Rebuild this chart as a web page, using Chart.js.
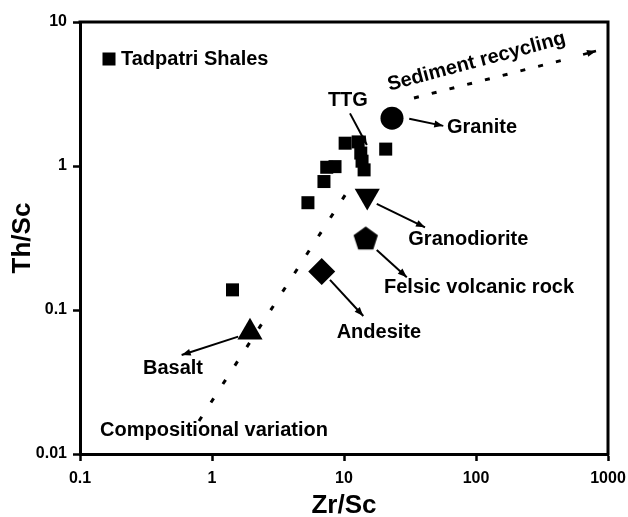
<!DOCTYPE html>
<html><head><meta charset="utf-8">
<script src="https://cdn.jsdelivr.net/npm/chart.js@4"></script>
<style>html,body{margin:0;padding:0;background:#fff}#wrap{width:628px;height:517px}</style>
</head><body><div id="wrap"><canvas id="c"></canvas></div>
<script>
// ---- data ----
const shalesZrSc = [10.2, 12.8, 13.4, 13.7, 14.2, 20.7, 7.4, 8.55, 7.05, 5.33, 1.43];
const shalesThSc = [1.44, 1.47, 1.23, 1.08, 0.94, 1.31, 0.98, 0.99, 0.78, 0.556, 0.138];
const refNames  = ['Granite', 'Granodiorite', 'Felsic volcanic rock', 'Andesite', 'Basalt'];
const refZrSc   = [23.1, 15.0, 14.6, 6.78, 1.94];
const refThSc   = [2.15, 0.62, 0.31, 0.185, 0.070];
const xTickVals = [0.1, 1, 10, 100, 1000];
const xTickLabels = ['0.1', '1', '10', '100', '1000'];
const yTickVals = [0.01, 0.1, 1, 10];
const yTickLabels = ['0.01', '0.1', '1', '10'];
const compZr = [0.797, 10.26];
const compTh = [0.01695, 0.634];
const recycZr = [33.9, 533];
const recycTh = [2.97, 5.64];
const recycHeadZr = [647, 811];
const recycHeadTh = [5.95, 6.29];
// annotation labels (data coordinates)
const labelTexts = ['TTG', 'Granite', 'Granodiorite', 'Felsic volcanic rock', 'Andesite', 'Basalt', 'Compositional variation', 'Sediment recycling'];
const labelZr    = [10.7, 60.3, 30.7, 20.1, 8.8, 0.30, 0.142, 101];
const labelTh    = [2.84, 1.84, 0.31, 0.143, 0.0703, 0.0395, 0.0145, 5.3];
const labelAlign = ['center', 'left', 'left', 'left', 'left', 'left', 'left', 'center'];
const labelRot   = [0, 0, 0, 0, 0, 0, 0, -15];
// arrows [fromZr, fromTh, toZr, toTh]
const arrowFromZr = [11.1, 31.2, 17.7, 17.7, 7.83, 1.58];
const arrowFromTh = [2.32, 2.13, 0.545, 0.261, 0.162, 0.0653];
const arrowToZr   = [14.9, 56.5, 41.1, 29.9, 14.0, 0.589];
const arrowToTh   = [1.40, 1.90, 0.375, 0.169, 0.0908, 0.0487];

const FONT = '"Liberation Sans", Arial, sans-serif';

function pentagon(R) {
  const s = Math.ceil(2 * R + 2);
  const c = document.createElement('canvas');
  c.width = s; c.height = s;
  const g = c.getContext('2d');
  g.fillStyle = '#000';
  g.beginPath();
  for (let i = 0; i < 5; i++) {
    const a = -Math.PI / 2 + i * 2 * Math.PI / 5;
    const px = s / 2 + R * Math.cos(a), py = s / 2 + R * Math.sin(a);
    i ? g.lineTo(px, py) : g.moveTo(px, py);
  }
  g.closePath(); g.fill();
  return c;
}

const refStyles = ['circle', 'triangle', pentagon(12.8), 'rectRot', 'triangle'];
const refRadius = [11.5, 14.5, 13, 13.5, 14.5];
const refRotation = [0, 180, 0, 0, 0];

function pts(xs, ys) { return xs.map((x, i) => ({x: x, y: ys[i]})); }

function arrowDraw(ctx, x1, y1, x2, y2, L, W) {
  ctx.beginPath(); ctx.moveTo(x1, y1); ctx.lineTo(x2, y2); ctx.stroke();
  const a = Math.atan2(y2 - y1, x2 - x1);
  ctx.beginPath();
  ctx.moveTo(x2, y2);
  ctx.lineTo(x2 - L * Math.cos(a) + W * Math.sin(a), y2 - L * Math.sin(a) - W * Math.cos(a));
  ctx.lineTo(x2 - L * Math.cos(a) - W * Math.sin(a), y2 - L * Math.sin(a) + W * Math.cos(a));
  ctx.closePath(); ctx.fill();
}

const annot = {
  id: 'annot',
  afterDatasetsDraw(chart) {
    const {ctx, chartArea: ca, scales: {x, y}} = chart;
    ctx.save();
    ctx.fillStyle = '#000'; ctx.strokeStyle = '#000';
    // frame top & right
    ctx.lineWidth = 3;
    ctx.beginPath();
    ctx.moveTo(ca.left - 1.5, ca.top); ctx.lineTo(ca.right, ca.top); ctx.lineTo(ca.right, ca.bottom + 1.5);
    ctx.stroke();
    // arrows
    ctx.lineWidth = 2;
    for (let i = 0; i < arrowFromZr.length; i++) {
      arrowDraw(ctx, x.getPixelForValue(arrowFromZr[i]), y.getPixelForValue(arrowFromTh[i]),
        x.getPixelForValue(arrowToZr[i]), y.getPixelForValue(arrowToTh[i]), 9, 3.5);
    }
    // sediment recycling arrow head
    const hx1 = x.getPixelForValue(recycHeadZr[0]), hy1 = y.getPixelForValue(recycHeadTh[0]);
    const hx2 = x.getPixelForValue(recycHeadZr[1]), hy2 = y.getPixelForValue(recycHeadTh[1]);
    ctx.lineWidth = 2.5;
    arrowDraw(ctx, hx1, hy1, hx2, hy2, 9, 3.5);
    // labels
    ctx.font = 'bold 20px ' + FONT;
    ctx.textBaseline = 'middle';
    for (let i = 0; i < labelTexts.length; i++) {
      ctx.save();
      ctx.translate(x.getPixelForValue(labelZr[i]), y.getPixelForValue(labelTh[i]));
      ctx.rotate(labelRot[i] * Math.PI / 180);
      ctx.textAlign = labelAlign[i];
      ctx.fillText(labelTexts[i], 0, 0);
      ctx.restore();
    }
    // legend
    const lx = ca.left + 29, ly = ca.top + 37;
    ctx.fillRect(lx - 6.5, ly - 6.5, 13, 13);
    ctx.textAlign = 'left';
    ctx.fillText('Tadpatri Shales', lx + 12, ly);
    ctx.restore();
  }
};

const datasets = [
  {label: 'comp', data: pts(compZr, compTh), showLine: true, pointRadius: 0,
   borderColor: '#000', borderWidth: 3, borderDash: [5, 17], borderCapStyle: 'butt'},
  {label: 'recyc', data: pts(recycZr, recycTh), showLine: true, pointRadius: 0,
   borderColor: '#000', borderWidth: 3, borderDash: [5, 13.3], borderCapStyle: 'butt'},
  {label: 'Tadpatri Shales', data: pts(shalesZrSc, shalesThSc), pointStyle: 'rect', pointRadius: 9.2,
   backgroundColor: '#000', borderColor: '#000', borderWidth: 0}
];
refNames.forEach((n, i) => datasets.push({
  label: n, data: [{x: refZrSc[i], y: refThSc[i]}], pointStyle: refStyles[i], pointRadius: refRadius[i],
  rotation: refRotation[i], backgroundColor: '#000', borderColor: '#000', borderWidth: 0
}));

const tickFont = {size: 16, weight: 'bold', family: FONT};
new Chart(document.getElementById('c'), {
  type: 'scatter',
  data: {datasets},
  options: {
    responsive: true, maintainAspectRatio: false, animation: false,
    layout: {padding: {top: 22, right: 20, left: 0, bottom: 0}},
    plugins: {legend: {display: false}, tooltip: {enabled: false}},
    scales: {
      x: {
        type: 'logarithmic', min: 0.1, max: 1000,
        afterBuildTicks: s => { s.ticks = xTickVals.map(v => ({value: v})); },
        afterFit: s => { s.height = 63; s.paddingLeft = 0; s.paddingRight = 0; },
        ticks: {autoSkip: false, maxRotation: 0, font: tickFont, color: '#000', padding: 8,
                callback: (v) => { const i = xTickVals.indexOf(v); return i >= 0 ? xTickLabels[i] : ''; }},
        grid: {drawOnChartArea: false, drawTicks: true, tickLength: 7, tickWidth: 2.5, color: '#000'},
        border: {display: true, width: 3, color: '#000'},
        title: {display: true, text: 'Zr/Sc', color: '#000', font: {size: 26, weight: 'bold', family: FONT, lineHeight: 0.85}, padding: {top: 0, bottom: 0}}
      },
      y: {
        type: 'logarithmic', min: 0.01, max: 10,
        afterBuildTicks: s => { s.ticks = yTickVals.map(v => ({value: v})); },
        afterFit: s => { s.width = 80; s.paddingTop = 0; s.paddingBottom = 0; },
        ticks: {autoSkip: false, font: tickFont, color: '#000', padding: 6,
                callback: (v) => { const i = yTickVals.indexOf(v); return i >= 0 ? yTickLabels[i] : ''; }},
        grid: {drawOnChartArea: false, drawTicks: true, tickLength: 7, tickWidth: 2.5, color: '#000'},
        border: {display: true, width: 3, color: '#000'},
        title: {display: true, text: 'Th/Sc', color: '#000', font: {size: 26, weight: 'bold', family: FONT}, padding: {top: 7, bottom: 0}}
      }
    }
  },
  plugins: [annot]
});
</script></body></html>
